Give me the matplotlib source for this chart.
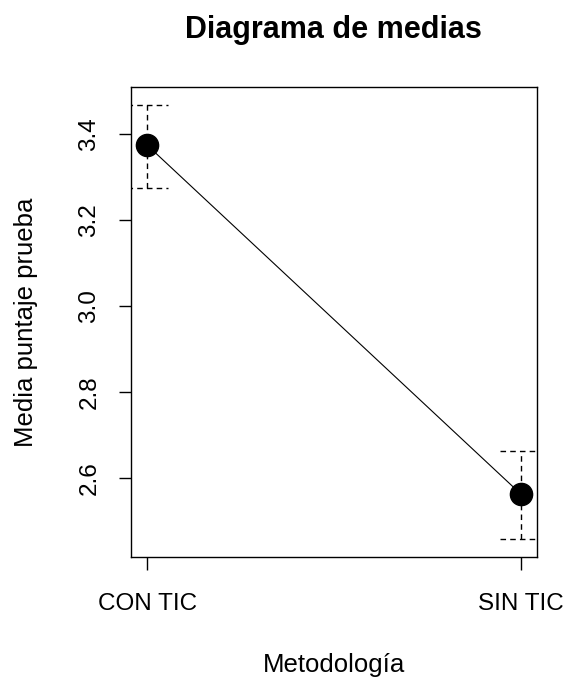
import matplotlib.pyplot as plt

plt.rcParams["font.family"] = ["Liberation Sans", "DejaVu Sans"]

groups = ["CON TIC", "SIN TIC"]
means = [3.374, 2.562]
upper = [3.467, 2.662]
lower = [3.274, 2.457]


def main() -> None:
    fig = plt.figure(figsize=(5.65, 6.8), dpi=100)
    ax = fig.add_axes([0.2319, 0.181, 0.7186, 0.691])
    xs = list(range(1, len(groups) + 1))

    ax.plot(xs, means, color="black", lw=0.8, zorder=2)
    ax.plot(xs, means, "o", color="black", ms=16, zorder=3)

    cap = 0.055
    for x, lo, hi in zip(xs, lower, upper):
        ax.plot([x, x], [lo, hi], color="black", lw=1, dashes=(4, 3), zorder=1)
        ax.plot([x - cap, x + cap], [hi, hi], color="black", lw=1, dashes=(4, 3), zorder=1)
        ax.plot([x - cap, x + cap], [lo, lo], color="black", lw=1, dashes=(4, 3), zorder=1)

    ax.set_xlim(0.957, 2.043)
    ax.set_ylim(2.416, 3.509)
    ax.set_xticks(xs)
    ax.set_xticklabels(groups)
    ax.set_yticks([2.6, 2.8, 3.0, 3.2, 3.4])
    ax.set_yticklabels(["2.6", "2.8", "3.0", "3.2", "3.4"], rotation=90, va="center")
    ax.tick_params(direction="out", length=9, width=1, labelsize=17.5, pad=13)
    ax.tick_params(axis="x", pad=17)
    for s in ax.spines.values():
        s.set_linewidth(1)

    ax.set_xlabel("Metodología", fontsize=18.5)
    ax.set_ylabel("Media puntaje prueba", fontsize=18.5)
    ax.xaxis.set_label_coords(0.5, -0.205)
    ax.yaxis.set_label_coords(-0.23, 0.5)
    fig.text(0.59, 1 - 30 / 680, "Diagrama de medias", fontsize=22, fontweight="bold",
             ha="center", va="center")

    fig.savefig("out.png", dpi=100)
    plt.close(fig)


if __name__ == "__main__":
    main()
